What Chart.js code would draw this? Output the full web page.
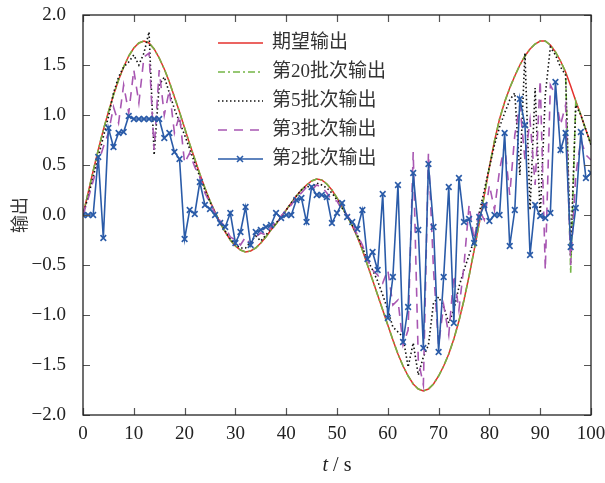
<!DOCTYPE html>
<html>
<head>
<meta charset="utf-8">
<script src="https://cdn.jsdelivr.net/npm/chart.js@4.4.0/dist/chart.umd.min.js"></script>
<style>
  html, body { margin: 0; padding: 0; background: #fff; }
  #wrap { width: 605px; height: 483px; }
</style>
</head>
<body>
<div id="wrap"><canvas id="outputChart"></canvas></div>
<script>
const seriesNames = ['期望输出', '第20批次输出', '第5批次输出', '第3批次输出', '第2批次输出'];
const times = Array.from({ length: 101 }, (_, i) => i);
const xTicks = [0, 10, 20, 30, 40, 50, 60, 70, 80, 90, 100];
const yTicks = [-2, -1.5, -1, -0.5, 0, 0.5, 1, 1.5, 2];

const desired = [
  0.00, 0.22, 0.44, 0.65, 0.85, 1.03, 1.20, 1.35, 1.48, 1.59,
  1.67, 1.72, 1.74, 1.72, 1.66, 1.57, 1.46, 1.33, 1.18, 1.03,
  0.87, 0.71, 0.56, 0.41, 0.27, 0.14, 0.03, -0.08, -0.17, -0.25,
  -0.31, -0.35, -0.37, -0.36, -0.33, -0.28, -0.22, -0.15, -0.09, -0.02,
  0.05, 0.12, 0.19, 0.25, 0.30, 0.34, 0.36, 0.35, 0.31, 0.25,
  0.17, 0.08, -0.01, -0.11, -0.22, -0.35, -0.50, -0.65, -0.80, -0.95,
  -1.10, -1.25, -1.39, -1.51, -1.61, -1.69, -1.74, -1.76, -1.74, -1.69,
  -1.61, -1.51, -1.39, -1.24, -1.06, -0.85, -0.61, -0.35, -0.08, 0.20,
  0.48, 0.74, 0.96, 1.13, 1.27, 1.39, 1.50, 1.59, 1.66, 1.71,
  1.74, 1.74, 1.70, 1.63, 1.54, 1.43, 1.29, 1.14, 1.00, 0.85,
  0.71
];

const batch20 = [
  0.00, 0.22, 0.44, 0.65, 0.85, 1.03, 1.20, 1.35, 1.48, 1.59,
  1.67, 1.72, 1.74, 1.72, 1.66, 1.57, 1.46, 1.33, 1.18, 1.03,
  0.87, 0.71, 0.56, 0.41, 0.27, 0.14, 0.03, -0.08, -0.17, -0.25,
  -0.31, -0.35, -0.37, -0.36, -0.33, -0.28, -0.22, -0.15, -0.09, -0.02,
  0.05, 0.12, 0.19, 0.25, 0.30, 0.34, 0.36, 0.35, 0.31, 0.25,
  0.17, 0.08, -0.01, -0.11, -0.22, -0.35, -0.50, -0.65, -0.80, -0.95,
  -1.10, -1.25, -1.39, -1.51, -1.61, -1.69, -1.74, -1.76, -1.74, -1.69,
  -1.61, -1.51, -1.39, -1.24, -1.06, -0.85, -0.61, -0.35, -0.08, 0.20,
  0.48, 0.74, 0.96, 1.13, 1.27, 1.39, 1.50, 1.59, 1.66, 1.71,
  1.74, 1.74, 1.70, 1.63, 1.54, 1.43, -0.58, 1.14, 1.00, 0.85,
  0.71
];

const batch5 = [
  0.00, 0.18, 0.38, 0.58, 0.78, 0.98, 1.22, 1.38, 1.48, 1.53,
  1.60, 1.50, 1.62, 1.83, 0.60, 1.30, 1.38, 1.22, 1.06, 0.93,
  0.80, 0.66, 0.52, 0.38, 0.25, 0.13, 0.02, -0.08, -0.16, -0.24,
  -0.30, -0.33, -0.33, -0.27, -0.21, -0.26, -0.20, -0.14, -0.08, -0.02,
  0.05, 0.12, 0.19, 0.25, 0.29, 0.27, 0.32, 0.30, 0.27, 0.22,
  0.15, 0.07, -0.01, -0.10, -0.20, -0.32, -0.45, -0.55, -0.66, -0.80,
  -0.95, -1.12, -1.17, -1.22, -1.52, -1.28, -1.60, -1.42, -1.30, -0.88,
  -0.82, -0.92, -1.08, -0.95, -0.72, -0.55, -0.40, -0.25, 0.02, 0.25,
  0.48, 0.70, 0.88, 1.02, 1.15, 1.22, 0.40, 1.62, 0.05, 1.27,
  -0.02, 1.20, 1.68, 1.60, 1.48, 1.40, -0.40, 1.10, 1.00, 0.85,
  0.70
];

const batch3 = [
  0.00, 0.16, 0.34, 0.52, 0.68, 0.82, 1.08, 0.92, 1.30, 1.02,
  1.45, 1.12, 1.58, 1.62, 0.65, 1.45, 1.00, 1.25, 0.82, 1.00,
  0.52, 0.62, 0.48, 0.38, 0.22, 0.12, 0.02, -0.06, -0.12, -0.22,
  -0.25, -0.30, -0.22, -0.30, -0.22, -0.18, -0.20, -0.12, -0.07, -0.01,
  0.05, 0.10, 0.18, 0.22, 0.28, 0.25, 0.30, 0.28, 0.22, 0.15,
  0.14, 0.05, 0.00, -0.08, -0.20, -0.30, -0.45, -0.55, -0.60, -0.68,
  -0.55, -0.90, -0.85, -1.30, -1.15, 0.63, -1.45, -1.70, 0.62, -0.55,
  -1.30, -0.90, -1.20, -0.60, -0.95, -0.50, 0.10, -0.25, 0.05, -0.05,
  0.30, 0.05, 0.45, 0.70, 0.20, 0.80, 1.10, 0.55, 0.95, 0.30,
  1.35, -0.55, 1.30, 1.20, 0.90, 1.10, -0.50, 0.40, 0.75, 0.60,
  0.55
];

const batch2 = [
  0.00, 0.00, 0.00, 0.58, -0.23, 0.87, 0.68, 0.82, 0.83, 0.99,
  0.96, 0.96, 0.96, 0.96, 0.96, 0.96, 0.77, 0.82, 0.63, 0.56,
  -0.24, 0.05, 0.01, 0.33, 0.10, 0.06, 0.00, -0.08, -0.12, 0.02,
  -0.28, -0.17, 0.08, -0.30, -0.17, -0.15, -0.12, -0.10, 0.02, -0.03,
  0.00, 0.00, 0.15, 0.17, -0.07, 0.28, 0.20, 0.20, 0.18, -0.08,
  0.02, 0.12, -0.02, -0.07, -0.14, 0.05, -0.44, -0.37, -0.55, 0.21,
  -1.03, -0.62, 0.30, -1.27, -0.92, 0.42, -0.15, -1.33, 0.51, -0.12,
  -1.37, -0.62, 0.28, -1.08, 0.37, -0.07, -0.04, -0.28, -0.02, 0.10,
  -0.06, 0.00, 0.00, 0.82, -0.31, 0.05, 1.16, 0.90, -0.40, 0.10,
  -0.01, -0.03, 0.02, 1.33, 0.65, 0.82, -0.32, 0.07, 0.83, 0.37,
  0.42
];

const serifFont = '"Liberation Serif", "Times New Roman", serif';
const cjkFont = '"Liberation Serif", "Noto Sans CJK SC", serif';

function points(values) {
  return values.map((v, i) => ({ x: times[i], y: v }));
}

// frame with inward ticks on all four sides, custom legend and x title
const framePlugin = {
  id: 'frame',
  afterDraw(chart) {
    const { ctx, chartArea: a, scales: { x, y } } = chart;
    ctx.save();
    ctx.strokeStyle = '#555';
    ctx.lineWidth = 1.2;
    ctx.beginPath();
    xTicks.forEach(v => {
      const px = Math.round(x.getPixelForValue(v)) + 0.5;
      ctx.moveTo(px, a.bottom); ctx.lineTo(px, a.bottom - 7);
      ctx.moveTo(px, a.top); ctx.lineTo(px, a.top + 7);
    });
    yTicks.forEach(v => {
      const py = Math.round(y.getPixelForValue(v)) + 0.5;
      ctx.moveTo(a.left, py); ctx.lineTo(a.left + 7, py);
      ctx.moveTo(a.right, py); ctx.lineTo(a.right - 7, py);
    });
    ctx.stroke();

    ctx.strokeStyle = '#222';
    ctx.lineWidth = 1.3;
    ctx.strokeRect(a.left, a.top, a.right - a.left, a.bottom - a.top);

    // legend
    const rows = [43, 72, 101, 130, 159];
    chart.data.datasets.forEach((ds, i) => {
      const yy = rows[i];
      ctx.strokeStyle = ds.borderColor;
      ctx.lineWidth = ds.borderWidth;
      ctx.setLineDash(ds.borderDash || []);
      ctx.beginPath();
      ctx.moveTo(218, yy);
      ctx.lineTo(263, yy);
      ctx.stroke();
      ctx.setLineDash([]);
      if (ds.pointStyle === 'crossRot') {
        const r = 3;
        ctx.beginPath();
        ctx.moveTo(240 - r, yy - r); ctx.lineTo(240 + r, yy + r);
        ctx.moveTo(240 - r, yy + r); ctx.lineTo(240 + r, yy - r);
        ctx.stroke();
      }
      ctx.fillStyle = '#333';
      ctx.font = '19px ' + cjkFont;
      ctx.textBaseline = 'middle';
      ctx.textAlign = 'left';
      ctx.fillText(ds.label, 272, yy);
    });

    // x axis title: italic t
    const cx = (a.left + a.right) / 2;
    ctx.font = 'italic 20px ' + serifFont;
    const wT = ctx.measureText('t').width;
    ctx.font = '20px ' + serifFont;
    const wRest = ctx.measureText(' / s').width;
    const startX = cx - (wT + wRest) / 2;
    ctx.fillStyle = '#222';
    ctx.textBaseline = 'middle';
    ctx.textAlign = 'left';
    ctx.font = 'italic 20px ' + serifFont;
    ctx.fillText('t', startX, 466);
    ctx.font = '20px ' + serifFont;
    ctx.fillText(' / s', startX + wT, 466);
    ctx.restore();
  }
};

const ctx = document.getElementById('outputChart');
new Chart(ctx, {
  type: 'line',
  data: {
    datasets: [
      {
        label: seriesNames[0],
        data: points(desired),
        borderColor: '#e5302c',
        borderWidth: 1.5,
        pointRadius: 0,
        order: 5
      },
      {
        label: seriesNames[1],
        data: points(batch20),
        borderColor: '#74b545',
        borderWidth: 1.6,
        borderDash: [7, 3, 2, 3],
        pointRadius: 0,
        order: 4
      },
      {
        label: seriesNames[2],
        data: points(batch5),
        borderColor: '#111111',
        borderWidth: 1.6,
        borderDash: [1.5, 2.5],
        pointRadius: 0,
        order: 3
      },
      {
        label: seriesNames[3],
        data: points(batch3),
        borderColor: '#a857b2',
        borderWidth: 1.6,
        borderDash: [9, 7],
        pointRadius: 0,
        order: 2
      },
      {
        label: seriesNames[4],
        data: points(batch2),
        borderColor: '#2a5ba8',
        borderWidth: 1.6,
        pointStyle: 'crossRot',
        pointRadius: 4,
        pointBorderWidth: 1.6,
        pointBorderColor: '#2a5ba8',
        order: 1
      }
    ]
  },
  options: {
    responsive: true,
    maintainAspectRatio: false,
    animation: false,
    layout: { padding: { left: 0, right: 14, top: 15, bottom: 0 } },
    plugins: {
      legend: { display: false },
      tooltip: { enabled: false }
    },
    elements: { line: { tension: 0 } },
    scales: {
      x: {
        type: 'linear',
        min: 0,
        max: 100,
        grid: { display: false },
        border: { display: false },
        ticks: {
          stepSize: 10,
          padding: 0,
          color: '#222',
          font: { family: serifFont, size: 19 },
          maxRotation: 0
        },
        afterFit: (scale) => {
          scale.height = 68;
          scale.paddingLeft = 0;
          scale.paddingRight = 0;
        }
      },
      y: {
        min: -2,
        max: 2,
        grid: { display: false },
        border: { display: false },
        ticks: {
          stepSize: 0.5,
          padding: 9,
          color: '#222',
          font: { family: serifFont, size: 19 },
          callback: (v) => v.toFixed(1).replace('-', '\u2212')
        },
        title: {
          display: true,
          text: '输出',
          color: '#333',
          font: { family: '"Noto Sans CJK SC"', size: 18 },
          padding: { top: 8, bottom: 0 }
        },
        afterFit: (scale) => {
          scale.width = 83;
          scale.paddingTop = 0;
          scale.paddingBottom = 0;
        }
      }
    }
  },
  plugins: [framePlugin]
});
</script>
</body>
</html>
